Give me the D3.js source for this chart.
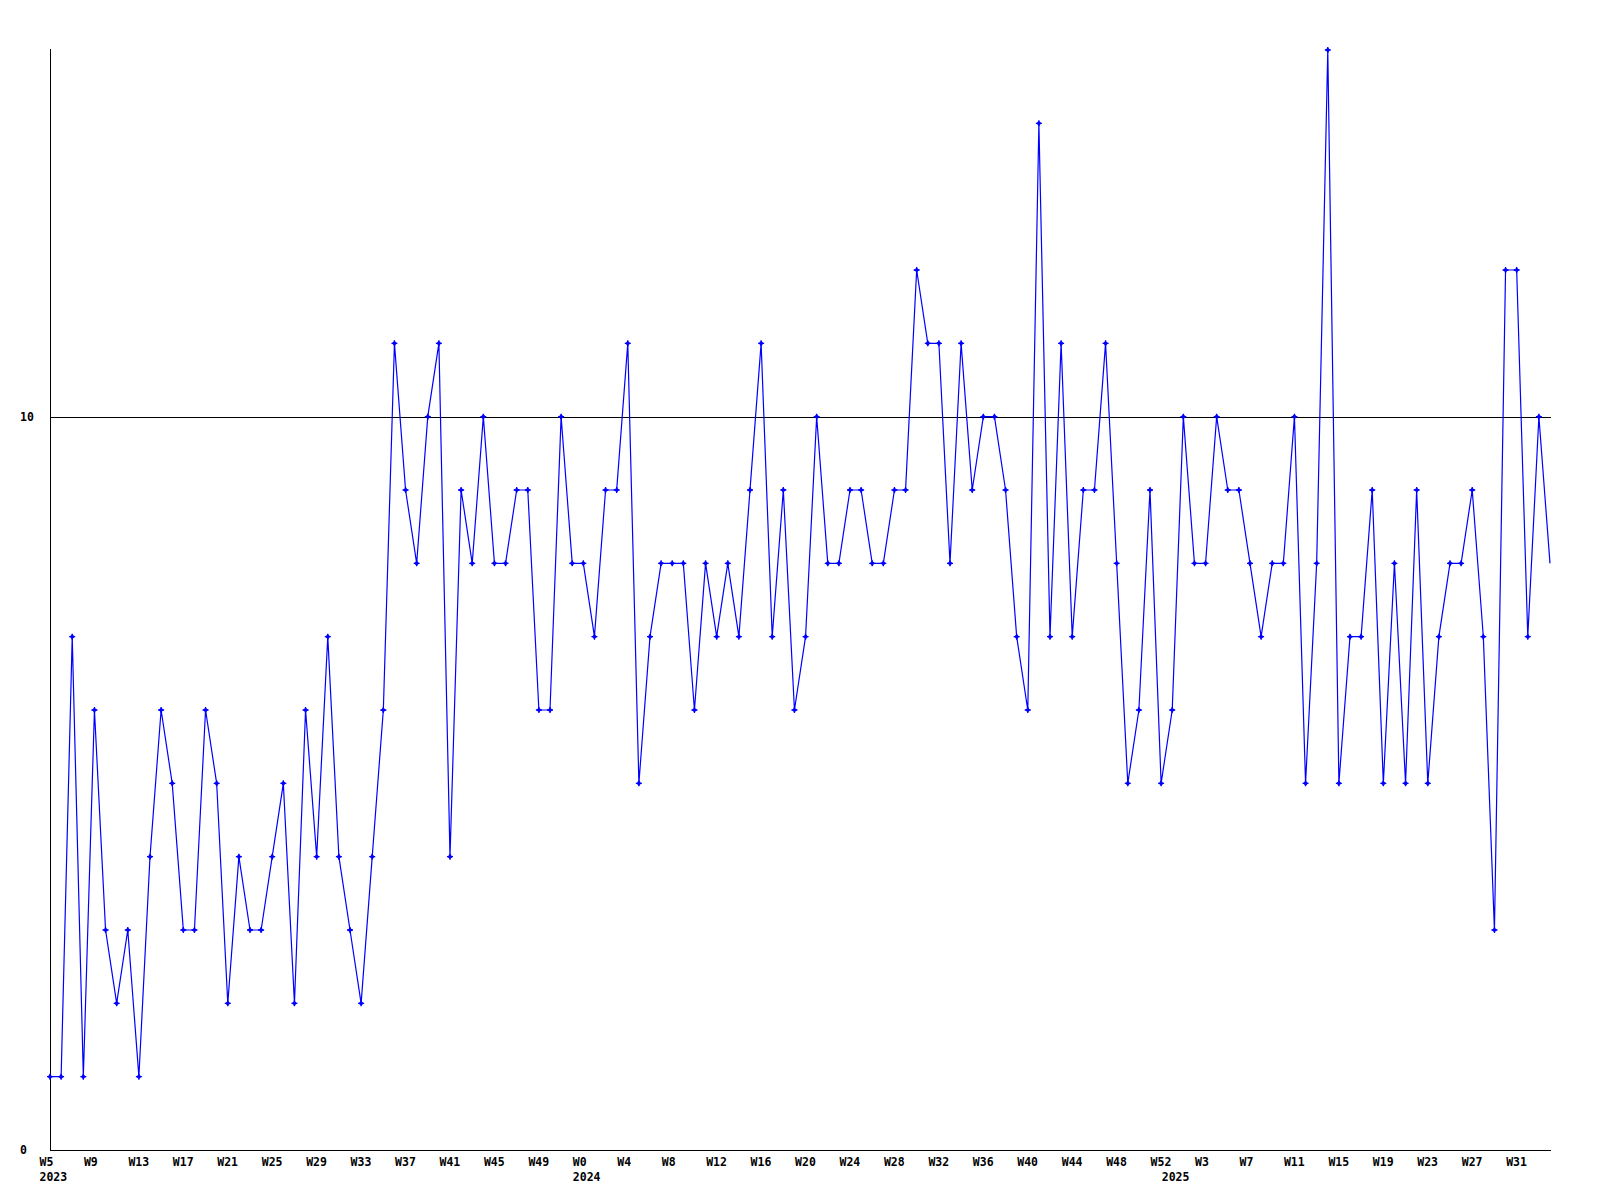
<!DOCTYPE html>
<html>
<head>
<meta charset="utf-8">
<script src="https://cdn.jsdelivr.net/npm/d3@7"></script>
<style>
  html, body { margin: 0; padding: 0; background: #ffffff; }
  svg { display: block; }
  text { font-family: "DejaVu Sans Mono", "Liberation Mono", monospace; font-weight: bold; font-size: 11.5px; fill: #000; }
</style>
</head>
<body>
<svg id="chart" width="1600" height="1200"></svg>
<script>
// Weekly counts, 2023 W5 .. 2025 W34
const values = [
  1,1,7,1,6,3,2,3,1,4,
  6,5,3,3,6,5,2,4,3,3,
  4,5,2,6,4,7,4,3,2,4,
  6,11,9,8,10,11,4,9,8,10,
  8,8,9,9,6,6,10,8,8,7,
  9,9,11,5,7,8,8,8,6,8,
  7,8,7,9,11,7,9,6,7,10,
  8,8,9,9,8,8,9,9,12,11,
  11,8,11,9,10,10,9,7,6,14,
  7,11,7,9,9,11,8,5,6,9,
  5,6,10,8,8,10,9,9,8,7,
  8,8,10,5,8,15,5,7,7,9,
  5,8,5,9,5,7,8,8,9,7,
  3,12,12,7,10,8
];

// x-axis week tick labels (every 4th point) and their point index
const tickIndex = [0,4,8,12,16,20,24,28,32,36,40,44,48,52,56,60,64,68,72,76,80,84,88,92,96,100,104,108,112,116,120,124,128,132];
const tickLabels = ["W5","W9","W13","W17","W21","W25","W29","W33","W37","W41","W45","W49",
  "W0","W4","W8","W12","W16","W20","W24","W28","W32","W36","W40","W44","W48","W52",
  "W3","W7","W11","W15","W19","W23","W27","W31"];

// year labels and the point index where each year starts
const yearLabels = ["2023","2024","2025"];
const yearIndex = [0,48,101];

// y-axis tick values
const yTicks = [0,10];
const yMax = 15;

(function () {
const svg = d3.select("#chart");
const pLeft = 50, pRight = 1550, pTop = 50, pBottom = 1150;

const x = d3.scaleLinear().domain([0, values.length - 1]).range([pLeft, pRight]);
const y = d3.scaleLinear().domain([0, yMax]).range([pBottom, pTop]);

// reference line at 10
svg.selectAll("line.ref").data(yTicks.filter(v => v > 0)).enter().append("line")
  .attr("x1", pLeft).attr("x2", pRight + 1)
  .attr("y1", d => Math.round(y(d)) + 0.5).attr("y2", d => Math.round(y(d)) + 0.5)
  .attr("stroke", "#000").attr("stroke-width", 1).attr("shape-rendering", "crispEdges");

// axes lines
svg.append("line").attr("x1", pLeft + 0.5).attr("x2", pLeft + 0.5).attr("y1", pTop - 1).attr("y2", pBottom + 0.5)
  .attr("stroke", "#000").attr("stroke-width", 1).attr("shape-rendering", "crispEdges");
svg.append("line").attr("x1", pLeft).attr("x2", pRight + 1).attr("y1", pBottom + 0.5).attr("y2", pBottom + 0.5)
  .attr("stroke", "#000").attr("stroke-width", 1).attr("shape-rendering", "crispEdges");

// y labels
svg.selectAll("text.ylab").data(yTicks).enter().append("text")
  .attr("class", "ylab")
  .attr("x", 20).attr("y", d => y(d))
  .attr("dominant-baseline", "central")
  .text(d => d);

// x tick labels
svg.selectAll("text.xlab").data(tickIndex).enter().append("text")
  .attr("class", "xlab")
  .attr("x", d => x(d) - 10.5).attr("y", 1166)
  .text((d, i) => tickLabels[i]);

// year labels
svg.selectAll("text.year").data(yearIndex).enter().append("text")
  .attr("class", "year")
  .attr("x", d => x(d) - 10.5).attr("y", 1181)
  .text((d, i) => yearLabels[i]);

// data line
const line = d3.line().x((d, i) => x(i)).y(d => y(d));
svg.append("path").datum(values)
  .attr("d", line)
  .attr("fill", "none").attr("stroke", "#0000ff").attr("stroke-width", 1.2);

// markers (not on the last point)
const markers = svg.append("g");
values.slice(0, values.length - 1).forEach((v, i) => {
  const cx = x(i), cy = y(v);
  markers.append("path")
    .attr("transform", `translate(${cx},${cy})`)
    .attr("d", "M-3,0H3M0,-3V3")
    .attr("stroke", "#0000ff").attr("stroke-width", 1.3).attr("fill", "none");
  markers.append("path")
    .attr("transform", `translate(${cx},${cy})`)
    .attr("d", "M0,-2.6L2.6,0L0,2.6L-2.6,0Z")
    .attr("fill", "#0000ff");
});
})();
</script>
</body>
</html>
